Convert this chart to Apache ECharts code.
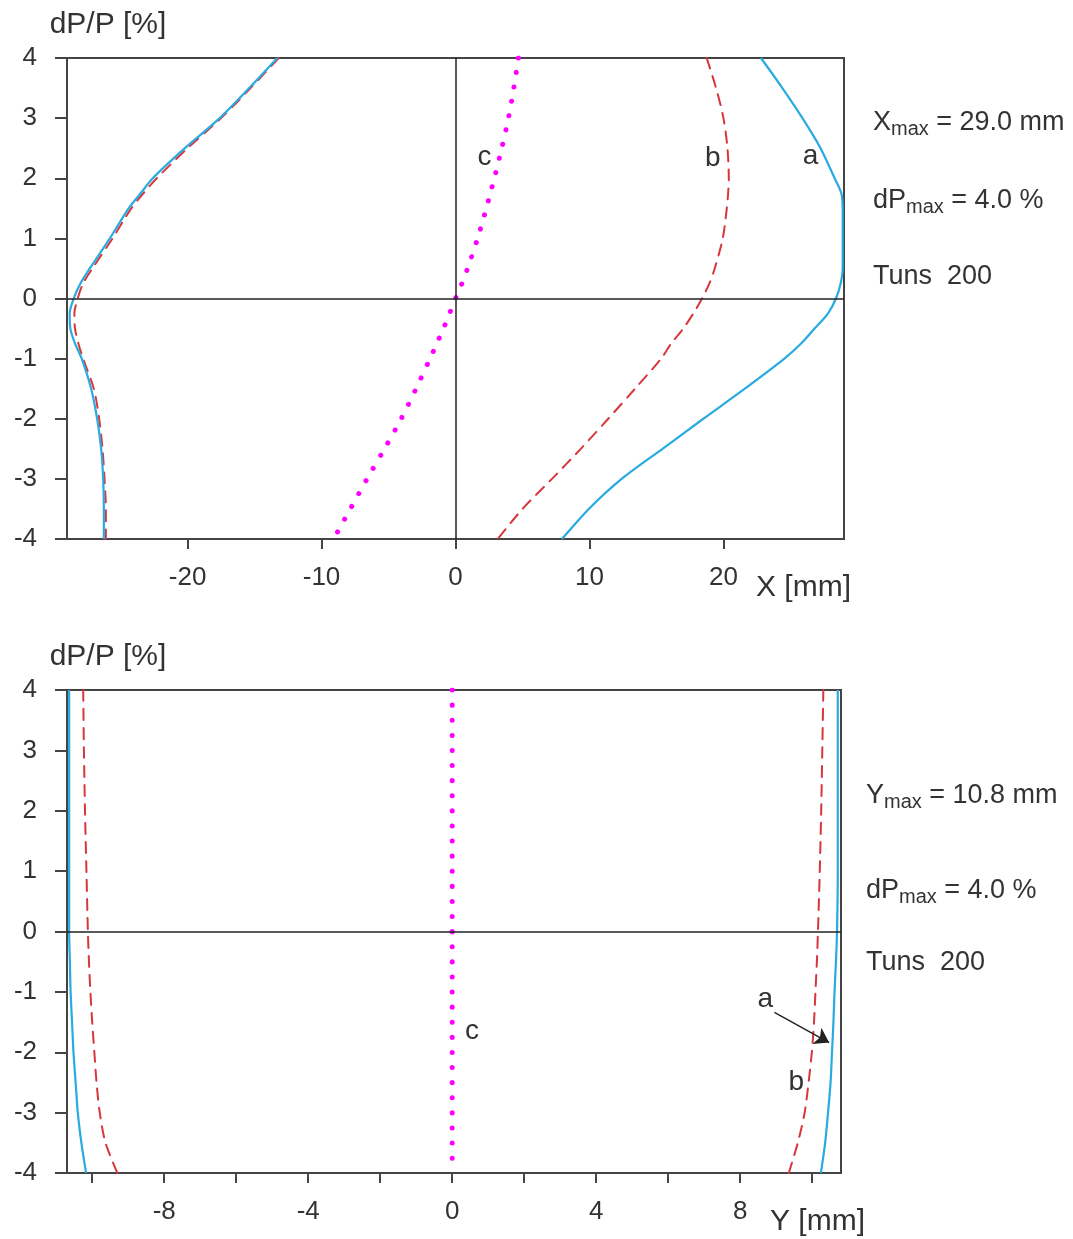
<!DOCTYPE html>
<html>
<head>
<meta charset="utf-8">
<script src="https://cdn.jsdelivr.net/npm/echarts@6/dist/echarts.min.js"></script>
<style>
  html, body { margin: 0; padding: 0; background: #fff; }
  #chart { width: 1073px; height: 1239px; }
</style>
</head>
<body>
<div id="chart"></div>
<script>
// dP/P values (y) at which the curves were read
const dpTop = [4, 3.5, 3, 2.5, 2, 1.75, 1.5, 1, 0.5, 0.25, 0, -0.25, -0.5, -0.75, -1, -1.5, -2, -2.5, -3, -3.5, -4]
// X [mm], upper plot
const xALeft  = [-13.3, -15.4, -17.6, -20.2, -22.6, -23.5, -24.4, -25.8, -27.3, -28.0, -28.5, -28.8, -28.75, -28.4, -27.9, -27.2, -26.75, -26.45, -26.3, -26.25, -26.25]
const xARight = [22.8, 24.4, 25.9, 27.25, 28.3, 28.8, 28.9, 28.9, 28.9, 28.75, 28.4, 27.8, 26.8, 25.8, 24.55, 21.6, 18.5, 15.45, 12.4, 9.95, 7.95]
const xBLeft  = [-13.2, -15.3, -17.5, -20.0, -22.3, -23.3, -24.2, -25.6, -27.1, -27.8, -28.2, -28.45, -28.4, -28.15, -27.8, -27.0, -26.6, -26.35, -26.2, -26.1, -26.1]
const xBRight = [18.75, 19.45, 20.0, 20.3, 20.4, 20.35, 20.25, 19.95, 19.35, 18.95, 18.4, 17.75, 17.0, 16.1, 15.35, 13.4, 11.4, 9.35, 7.2, 5.0, 3.15]
const xC      = [4.7, 4.35, 3.95, 3.45, 2.9, 2.6, 2.3, 1.65, 0.9, 0.48, 0, -0.45, -0.9, -1.4, -1.9, -2.95, -4.05, -5.3, -6.6, -7.85, -9.1]

// Y [mm], lower plot
const dpBot = [4, 3, 2, 1, 0, -0.5, -1, -1.5, -2, -2.5, -3, -3.5, -4]
const yALeft  = [-10.64, -10.64, -10.64, -10.64, -10.64, -10.62, -10.6, -10.56, -10.52, -10.46, -10.4, -10.3, -10.17]
const yARight = [10.71, 10.71, 10.71, 10.71, 10.69, 10.66, 10.62, 10.59, 10.55, 10.51, 10.44, 10.36, 10.24]
const yBLeft  = [-10.25, -10.23, -10.2, -10.16, -10.12, -10.09, -10.05, -10.0, -9.94, -9.88, -9.79, -9.63, -9.3]
const yBRight = [10.31, 10.28, 10.25, 10.21, 10.16, 10.13, 10.09, 10.05, 9.99, 9.9, 9.79, 9.6, 9.35]
const yC      = [0, 0, 0, 0, 0, 0, 0, 0, 0, 0, 0, 0, 0]

// axis ticks / labels
const xTopTicks = [-20, -10, 0, 10, 20]
const xBotTicks = [-10, -8, -6, -4, -2, 0, 2, 4, 6, 8, 10]
const xBotLabels = [-8, -4, 0, 4, 8]

const FONT = '"Liberation Sans", Arial, sans-serif'
const TXT = '#333'
const AX = '#444'
const BLUE = '#29aae1'
const RED = '#d8363d'
const MAGENTA = '#ff00ff'

const zip = (xs, dps) => xs.map((x, i) => [x, dps[i]])

const chart = echarts.init(document.getElementById('chart'))

const yAxisCfg = (gridIndex) => ({
  gridIndex,
  type: 'value',
  min: -4,
  max: 4,
  interval: 1,
  name: 'dP/P [%]',
  nameLocation: 'end',
  nameGap: 18,
  nameTextStyle: { fontSize: 30, color: TXT, fontFamily: FONT, align: 'center', padding: [0, 0, 0, 82] },
  axisLine: { show: true, onZero: false, lineStyle: { color: AX, width: 2 } },
  axisTick: { show: true, length: 12, lineStyle: { color: AX, width: 2 } },
  axisLabel: { fontSize: 26, color: TXT, fontFamily: FONT, margin: 30 },
  splitLine: { show: false }
})

const xAxisCfg = (gridIndex, min, max, ticks, labels, name, gap) => ({
  gridIndex,
  type: 'value',
  min,
  max,
  name,
  nameLocation: 'end',
  nameGap: gap,
  nameTextStyle: { fontSize: 30, color: TXT, fontFamily: FONT, align: 'right', verticalAlign: 'top', padding: [34, 0, 0, 0] },
  axisLine: { show: true, onZero: false, lineStyle: { color: AX, width: 2 } },
  axisTick: { show: true, length: 10, customValues: ticks, lineStyle: { color: AX, width: 2 } },
  axisLabel: { fontSize: 26, color: TXT, fontFamily: FONT, margin: 26, customValues: labels },
  splitLine: { show: false }
})

const curve = (name, data, xi, color, type, width, extra) => Object.assign({
  name,
  type: 'line',
  xAxisIndex: xi,
  yAxisIndex: xi,
  data,
  showSymbol: false,
  symbol: 'none',
  silent: true,
  smooth: 0.3,
  lineStyle: { color, width, type, cap: type === 'solid' ? 'butt' : 'round' },
  z: 3
}, extra || {})

const letter = (txt, coord) => ({
  coord,
  value: txt,
  symbol: 'circle',
  symbolSize: 1,
  itemStyle: { color: 'rgba(0,0,0,0)' },
  label: { show: true, position: 'inside', formatter: txt, fontSize: 28, color: TXT, fontFamily: FONT }
})

const crossLine = { color: '#222', width: 1.5, type: 'solid' }

const richStyle = {
  b: { fontSize: 27, lineHeight: 30, verticalAlign: 'top', fontFamily: FONT, color: TXT },
  s: { fontSize: 20, lineHeight: 20, padding: [13, 0, 0, 0], verticalAlign: 'bottom', fontFamily: FONT, color: TXT }
}
const note = (left, top, text) => ({
  type: 'text', left, top, silent: true,
  style: { text, rich: richStyle, fill: TXT, font: '27px ' + FONT }
})

chart.setOption({
  animation: false,
  backgroundColor: '#fff',
  grid: [
    { left: 67, top: 58, width: 777, height: 481, show: true, borderColor: AX, borderWidth: 2, backgroundColor: 'transparent' },
    { left: 67, top: 690, width: 774, height: 483, show: true, borderColor: AX, borderWidth: 2, backgroundColor: 'transparent' }
  ],
  xAxis: [
    xAxisCfg(0, -29, 29, xTopTicks, xTopTicks, 'X [mm]', 7),
    xAxisCfg(1, -10.7, 10.8, xBotTicks, xBotLabels, 'Y [mm]', 24)
  ],
  yAxis: [yAxisCfg(0), yAxisCfg(1)],
  graphic: [
    note(873, 106, '{b|X}{s|max}{b| = 29.0 mm}'),
    note(873, 184, '{b|dP}{s|max}{b| = 4.0 %}'),
    note(873, 263, '{b|Tuns  200}'),
    note(866, 779, '{b|Y}{s|max}{b| = 10.8 mm}'),
    note(866, 874, '{b|dP}{s|max}{b| = 4.0 %}'),
    note(866, 949, '{b|Tuns  200}')
  ],
  series: [
    // upper plot
    curve('c', zip(xC, dpTop), 0, MAGENTA, [0.1, 14.5], 5, {
      markLine: {
        silent: true, symbol: 'none', label: { show: false }, lineStyle: crossLine,
        data: [{ xAxis: 0 }, { yAxis: 0 }]
      },
      markPoint: { silent: true, data: [letter('c', [2.16, 2.35])] }
    }),
    curve('b left', zip(xBLeft, dpTop), 0, RED, [11, 8], 2),
    curve('b right', zip(xBRight, dpTop), 0, RED, [11, 8], 2, {
      markPoint: { silent: true, data: [letter('b', [19.2, 2.33])] }
    }),
    curve('a left', zip(xALeft, dpTop), 0, BLUE, 'solid', 2.2),
    curve('a right', zip(xARight, dpTop), 0, BLUE, 'solid', 2.2, {
      markPoint: { silent: true, data: [letter('a', [26.5, 2.37])] }
    }),
    // lower plot
    curve('c', zip(yC, dpBot), 1, MAGENTA, [0.1, 15], 5, {
      markLine: {
        silent: true, symbol: 'none', label: { show: false }, lineStyle: crossLine,
        data: [{ yAxis: 0 }]
      },
      markPoint: { silent: true, data: [letter('c', [0.55, -1.66])] }
    }),
    curve('b left', zip(yBLeft, dpBot), 1, RED, [11, 8], 2),
    curve('b right', zip(yBRight, dpBot), 1, RED, [11, 8], 2, {
      markPoint: { silent: true, data: [letter('b', [9.56, -2.5])] }
    }),
    curve('a left', zip(yALeft, dpBot), 1, BLUE, 'solid', 2.2),
    curve('a right', zip(yARight, dpBot), 1, BLUE, 'solid', 2.2, {
      markPoint: { silent: true, data: [letter('a', [8.7, -1.13])] },
      markLine: {
        silent: true, symbol: ['none', 'arrow'], symbolSize: 14, label: { show: false },
        lineStyle: { color: '#222', width: 1.5, type: 'solid' },
        data: [[{ coord: [8.95, -1.34] }, { coord: [10.47, -1.84] }]]
      }
    })
  ]
})

window.addEventListener('resize', () => chart.resize())
</script>
</body>
</html>
